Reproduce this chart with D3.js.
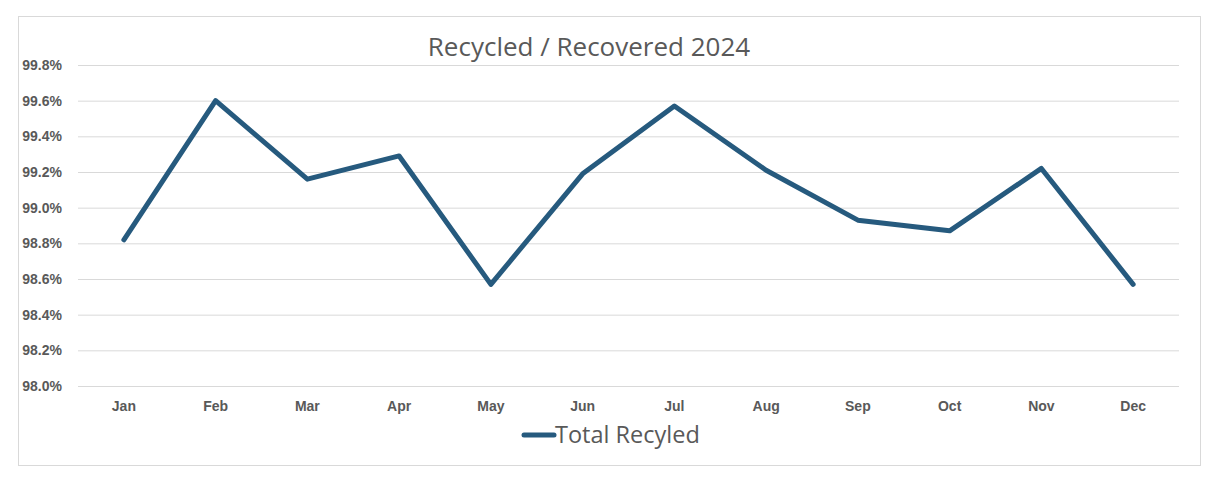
<!DOCTYPE html>
<html>
<head>
<meta charset="utf-8">
<script src="https://cdn.jsdelivr.net/npm/d3@7"></script>
<style>
  body { margin: 0; background: #fff; }
  svg { display: block; font-family: "Open Sans", "Liberation Sans", sans-serif; }
</style>
</head>
<body>
<svg id="chart" width="1222" height="484"></svg>
<script>
const svg = d3.select('#chart');

// data
const months = ['Jan', 'Feb', 'Mar', 'Apr', 'May', 'Jun', 'Jul', 'Aug', 'Sep', 'Oct', 'Nov', 'Dec'];
const totalRecycled = [98.82, 99.60, 99.16, 99.29, 98.57, 99.19, 99.57, 99.21, 98.93, 98.87, 99.22, 98.57];
const yTicks = [98.0, 98.2, 98.4, 98.6, 98.8, 99.0, 99.2, 99.4, 99.6, 99.8];

const lineColor = '#265a7e';
const textColor = '#595959';

// outer chart frame
svg.append('rect')
  .attr('x', 18.5).attr('y', 16.5)
  .attr('width', 1182).attr('height', 449)
  .attr('fill', '#fff')
  .attr('stroke', '#d9d9d9');

const margin = { top: 65, right: 43, bottom: 98, left: 78 };
const innerWidth = 1222 - margin.left - margin.right;
const innerHeight = 484 - margin.top - margin.bottom;

const x = d3.scaleBand()
  .domain(months)
  .range([0, innerWidth]);

const y = d3.scaleLinear()
  .domain([98.0, 99.8])
  .range([innerHeight, 0]);

const g = svg.append('g')
  .attr('transform', `translate(${margin.left}, ${margin.top})`);

// gridlines + y labels
const yAxis = g.append('g')
  .call(d3.axisLeft(y).tickValues(yTicks).tickSize(-innerWidth).tickPadding(16)
    .tickFormat(d => d3.format('.1f')(d) + '%'));
yAxis.select('.domain').remove();
yAxis.selectAll('.tick line').attr('stroke', '#d9d9d9').attr('stroke-width', 1);
yAxis.selectAll('.tick text')
  .attr('fill', textColor)
  .attr('font-size', '14px')
  .attr('font-weight', 'bold');

// x labels
const xAxis = g.append('g')
  .attr('transform', `translate(0, ${innerHeight})`)
  .call(d3.axisBottom(x).tickSize(0).tickPadding(15));
xAxis.select('.domain').remove();
xAxis.selectAll('.tick text')
  .attr('fill', textColor)
  .attr('font-size', '14px')
  .attr('font-weight', 'bold');

// series line
const line = d3.line()
  .x((d, i) => x(months[i]) + x.bandwidth() / 2)
  .y(d => y(d));

g.append('path')
  .datum(totalRecycled)
  .attr('d', line)
  .attr('fill', 'none')
  .attr('stroke', lineColor)
  .attr('stroke-width', 5)
  .attr('stroke-linejoin', 'round')
  .attr('stroke-linecap', 'round');

// title
svg.append('text')
  .attr('x', 589).attr('y', 56)
  .attr('text-anchor', 'middle')
  .attr('fill', textColor)
  .attr('font-size', '26px')
  .text('Recycled / Recovered 2024');

// legend
const legend = svg.append('g').attr('transform', 'translate(524, 435)');
legend.append('line')
  .attr('x1', 0).attr('x2', 30)
  .attr('y1', 0).attr('y2', 0)
  .attr('stroke', lineColor)
  .attr('stroke-width', 5)
  .attr('stroke-linecap', 'round');
legend.append('text')
  .attr('x', 31).attr('y', 8)
  .attr('fill', textColor)
  .attr('font-size', '23.5px')
  .text('Total Recyled');
</script>
</body>
</html>
